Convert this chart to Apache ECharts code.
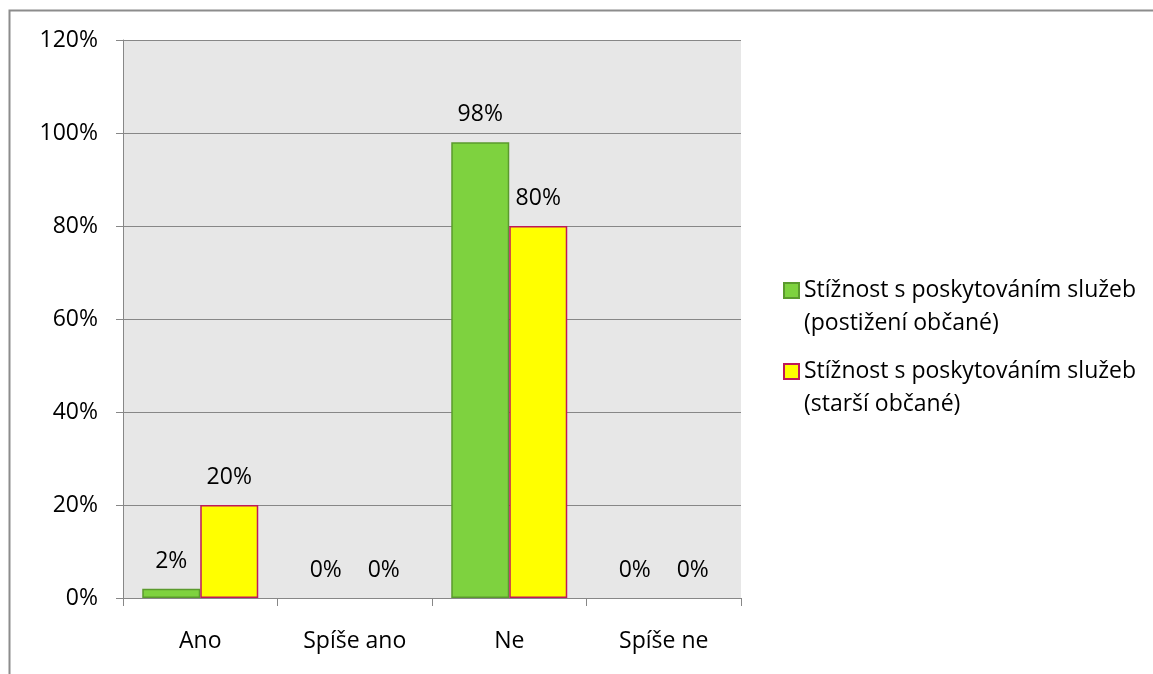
<!DOCTYPE html>
<html>
<head>
<meta charset="utf-8">
<script src="https://cdn.jsdelivr.net/npm/echarts@6/dist/echarts.min.js"></script>
<style>
  html, body { margin: 0; padding: 0; background: #ffffff; }
  #chart { width: 1153px; height: 674px; }
</style>
</head>
<body>
<div id="chart"></div>
<script>
// Odpovědi na otázku o stížnostech (v procentech)
const categories = ['Ano', 'Spíše ano', 'Ne', 'Spíše ne'];
const seriesNames = [
  'Stížnost s poskytováním služeb\n(postižení občané)',
  'Stížnost s poskytováním služeb\n(starší občané)'
];
const postizeni = [2, 0, 98, 0];
const starsi = [20, 0, 80, 0];
const yTicks = { min: 0, max: 120, interval: 20 };

const FONT = '"Open Sans", "DejaVu Sans", sans-serif';
const GRID_COLOR = '#878787';

const chart = echarts.init(document.getElementById('chart'), null, { renderer: 'canvas' });

const valueLabel = {
  show: true,
  position: 'top',
  distance: 16,
  formatter: '{c}%',
  fontFamily: FONT,
  fontSize: 23,
  color: '#000000'
};

// zero-height bars keep their label but draw no outline
function barData(values) {
  return values.map(v => v === 0 ? { value: v, itemStyle: { borderWidth: 0 } } : v);
}

// one legend per series; a leading blank line puts the first text line level with the swatch
function legendFor(name, top) {
  return {
    orient: 'vertical',
    left: 783,
    top: top,
    padding: 0,
    icon: 'rect',
    itemWidth: 15,
    itemHeight: 15,
    selectedMode: false,
    data: [name],
    formatter: n => '\n' + n,
    textStyle: {
      fontFamily: FONT,
      fontSize: 23,
      lineHeight: 33,
      color: '#000000'
    }
  };
}

chart.setOption({
  backgroundColor: '#ffffff',
  animation: false,
  graphic: [{
    type: 'polyline',
    shape: { points: [[9.5, 674], [9.5, 10.5], [1153, 10.5]] },
    style: { stroke: '#8c8c8c', lineWidth: 2, fill: null },
    silent: true
  }],
  grid: {
    left: 123,
    right: 412,
    top: 40,
    bottom: 76,
    show: true,
    backgroundColor: '#e7e7e7',
    borderWidth: 0
  },
  legend: [
    legendFor(seriesNames[0], 241),
    legendFor(seriesNames[1], 322)
  ],
  xAxis: {
    type: 'category',
    data: categories,
    axisLine: { show: true, lineStyle: { color: GRID_COLOR, width: 1 } },
    axisTick: { show: true, length: 8, lineStyle: { color: GRID_COLOR } },
    axisLabel: { fontFamily: FONT, fontSize: 23, color: '#000000', margin: 32 }
  },
  yAxis: {
    type: 'value',
    min: yTicks.min,
    max: yTicks.max,
    interval: yTicks.interval,
    axisLine: { show: true, lineStyle: { color: GRID_COLOR, width: 1 } },
    axisTick: { show: true, length: 7, lineStyle: { color: GRID_COLOR } },
    splitLine: { show: true, lineStyle: { color: GRID_COLOR, width: 1 } },
    axisLabel: { formatter: '{value}%', fontFamily: FONT, fontSize: 23, color: '#000000', margin: 25 }
  },
  series: [
    {
      name: seriesNames[0],
      type: 'bar',
      data: barData(postizeni),
      barWidth: 58,
      barGap: '0%',
      itemStyle: { color: '#7ed23f', borderColor: '#5b9a2e', borderWidth: 1.5 },
      label: valueLabel
    },
    {
      name: seriesNames[1],
      type: 'bar',
      data: barData(starsi),
      barWidth: 58,
      barGap: '0%',
      itemStyle: { color: '#ffff00', borderColor: '#c0185a', borderWidth: 1.5 },
      label: valueLabel
    }
  ]
});
</script>
</body>
</html>
